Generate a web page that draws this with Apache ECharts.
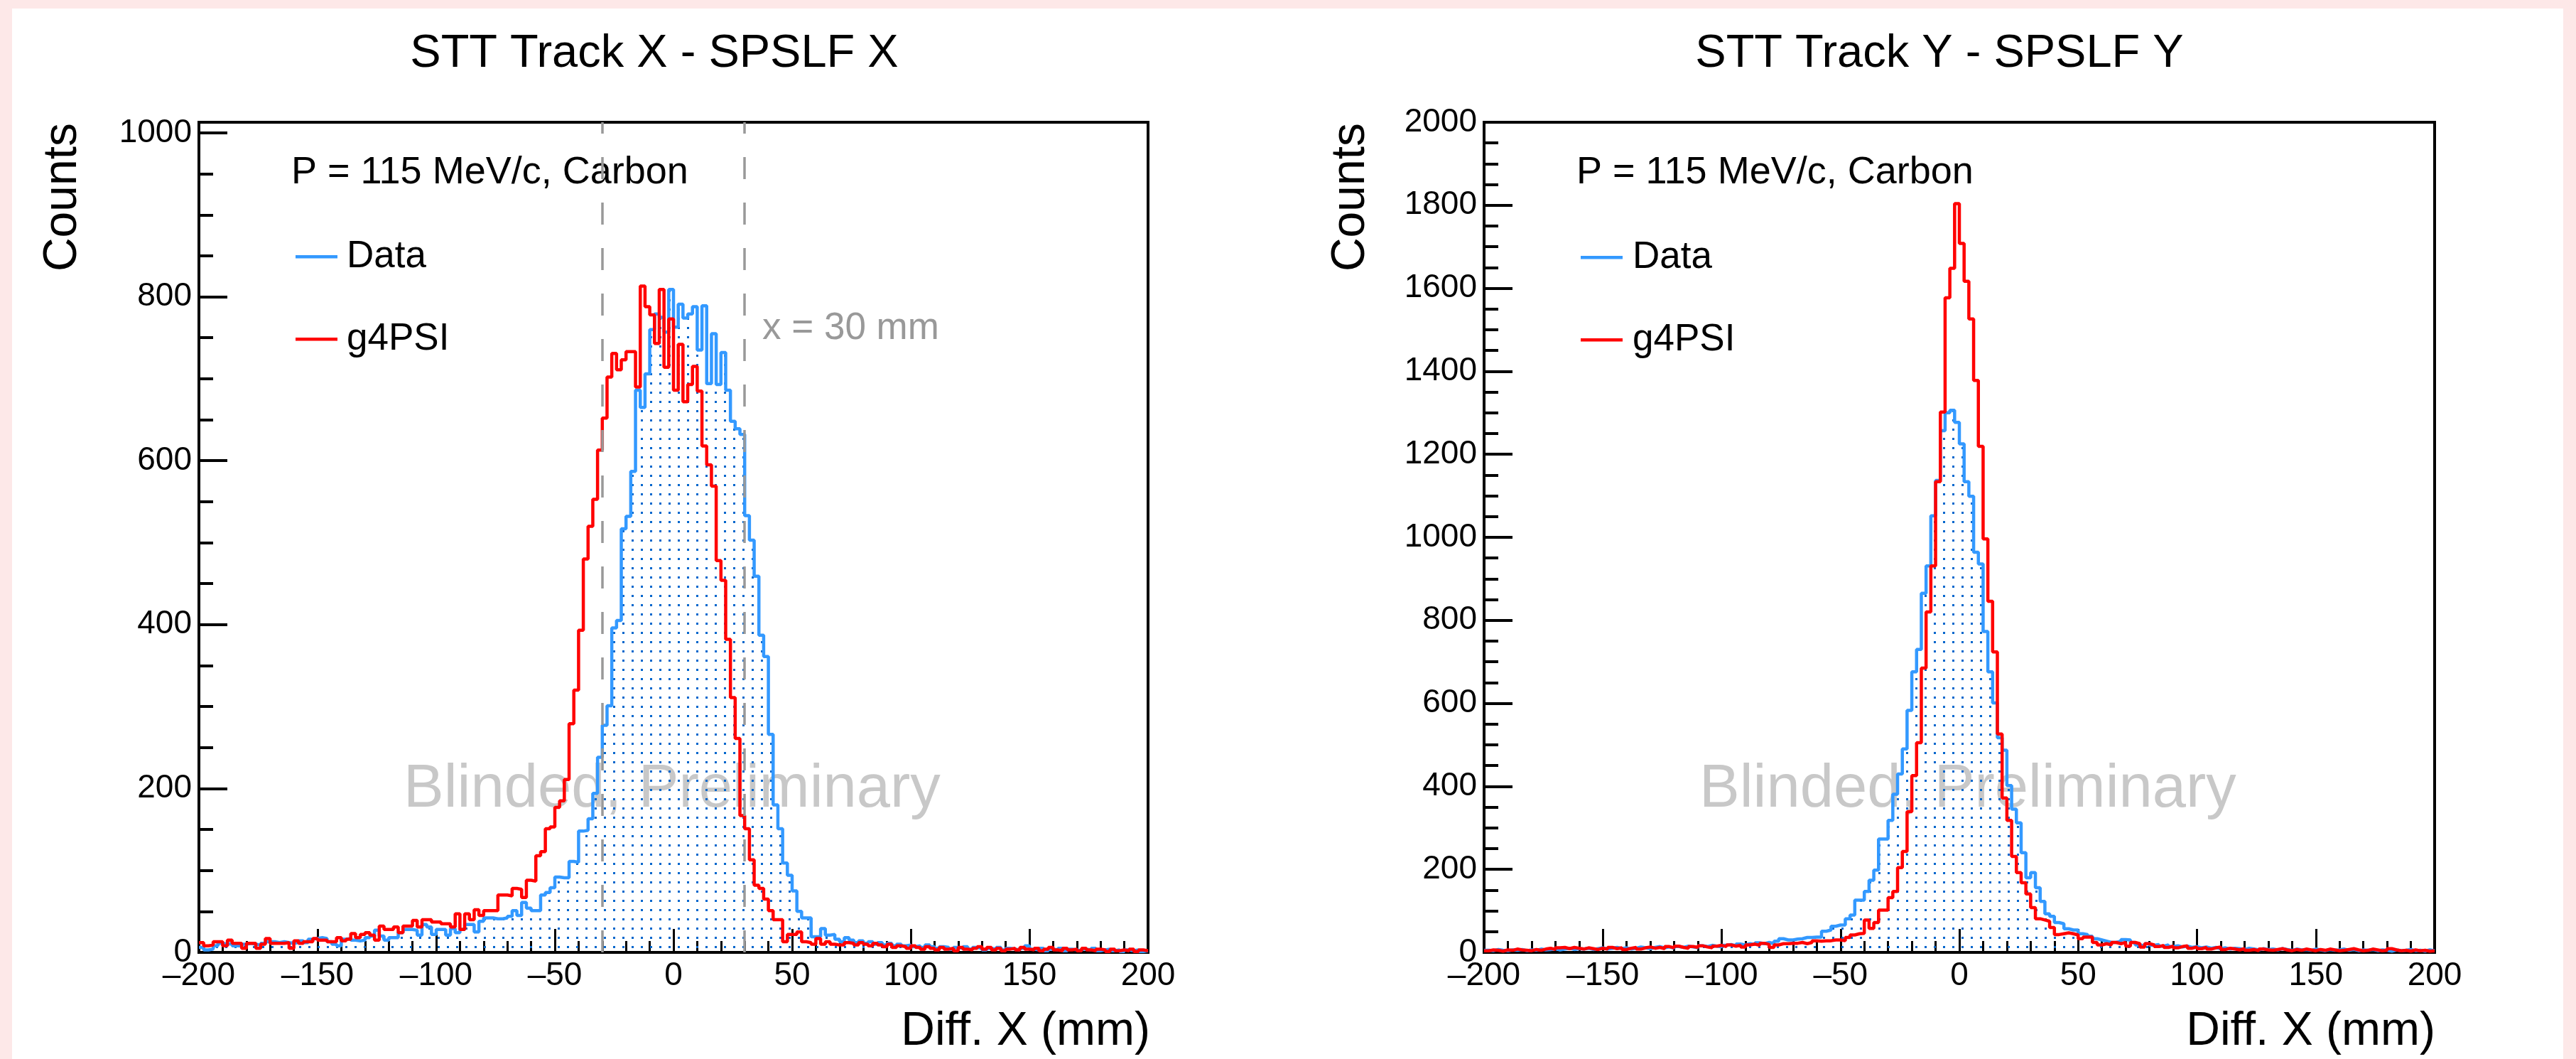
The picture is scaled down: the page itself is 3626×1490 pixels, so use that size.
<!DOCTYPE html>
<html>
<head>
<meta charset="utf-8">
<script src="https://cdn.jsdelivr.net/npm/echarts@6/dist/echarts.min.js"></script>
<style>
  html, body { margin: 0; padding: 0; background: #ffffff; }
  #chart { position: absolute; left: 0; top: 0; width: 3626px; height: 1490px; }
</style>
</head>
<body>
<div id="chart"></div>
<script>
// Histogram binning: 200 bins of 2 mm from -200 mm to +200 mm
const binLow = -200;
const binWidth = 2;

// Counts per bin, STT track X minus SPSLF X
const diffXData = [
  6, 3, 4, 8, 11, 10, 11, 8, 8, 10,
  11, 10, 9, 11, 13, 13, 12, 13, 12, 11,
  12, 14, 12, 16, 17, 18, 17, 13, 10, 8,
  16, 17, 15, 14, 15, 18, 20, 27, 20, 15,
  18, 18, 24, 28, 28, 27, 21, 34, 31, 22,
  28, 28, 21, 29, 24, 28, 34, 34, 25, 38,
  42, 42, 41, 41, 42, 44, 51, 45, 61, 54,
  51, 51, 70, 73, 79, 92, 91, 91, 111, 110,
  148, 149, 163, 194, 238, 277, 301, 396, 405, 517,
  532, 587, 686, 665, 706, 760, 779, 775, 757, 809,
  763, 791, 774, 779, 788, 735, 789, 694, 755, 693,
  732, 686, 648, 639, 632, 533, 503, 459, 387, 361,
  266, 180, 151, 109, 94, 75, 50, 42, 42, 19,
  19, 29, 21, 22, 16, 13, 18, 15, 12, 14,
  11, 13, 10, 12, 9, 11, 8, 10, 8, 9,
  7, 8, 6, 9, 7, 5, 7, 6, 4, 6,
  5, 7, 4, 6, 5, 3, 5, 4, 6, 3,
  5, 4, 3, 5, 8, 4, 3, 5, 2, 4,
  3, 5, 2, 4, 3, 2, 4, 3, 5, 2,
  3, 4, 2, 3, 1, 3, 2, 3, 1, 2
];
const diffXSim = [
  12, 8, 9, 13, 13, 8, 15, 11, 11, 5,
  11, 11, 5, 10, 17, 11, 11, 11, 12, 5,
  14, 11, 13, 13, 17, 15, 15, 13, 13, 18,
  14, 16, 23, 18, 22, 24, 21, 15, 32, 28,
  28, 31, 24, 32, 32, 39, 31, 40, 40, 37,
  37, 35, 35, 31, 47, 28, 47, 40, 52, 45,
  51, 51, 51, 70, 70, 69, 78, 77, 67, 88,
  87, 118, 123, 151, 153, 177, 185, 211, 279, 320,
  393, 480, 520, 553, 613, 652, 702, 731, 711, 723,
  733, 733, 690, 813, 788, 778, 743, 809, 714, 773,
  686, 742, 672, 693, 715, 685, 618, 595, 569, 478,
  454, 382, 311, 261, 167, 151, 113, 82, 78, 65,
  51, 40, 40, 13, 22, 22, 25, 13, 12, 10,
  17, 10, 13, 10, 9, 9, 12, 11, 9, 12,
  10, 8, 11, 9, 7, 10, 6, 8, 7, 5,
  8, 6, 4, 7, 5, 3, 6, 4, 5, 2,
  6, 4, 3, 5, 7, 4, 6, 3, 5, 2,
  4, 5, 3, 6, 4, 3, 5, 2, 4, 6,
  3, 2, 5, 3, 4, 2, 5, 3, 2, 4,
  3, 1, 4, 2, 3, 2, 4, 1, 3, 2
];

// Counts per bin, STT track Y minus SPSLF Y
const diffYData = [
  5, 4, 7, 5, 4, 6, 5, 7, 4, 6,
  5, 8, 6, 7, 9, 6, 8, 10, 7, 9,
  8, 10, 7, 9, 11, 8, 10, 12, 9, 11,
  8, 10, 13, 11, 9, 12, 14, 11, 13, 10,
  14, 12, 15, 13, 11, 16, 14, 17, 15, 13,
  17, 19, 16, 20, 18, 21, 19, 23, 21, 24,
  21, 27, 33, 30, 30, 32, 33, 36, 36, 37,
  37, 51, 54, 63, 66, 66, 81, 90, 126, 126,
  147, 174, 198, 273, 273, 318, 381, 430, 490, 583,
  676, 730, 865, 931, 1052, 1137, 1257, 1300, 1306, 1277,
  1225, 1134, 1099, 964, 936, 773, 676, 601, 517, 487,
  402, 345, 312, 240, 180, 192, 156, 123, 93, 87,
  72, 69, 57, 54, 54, 45, 43, 39, 33, 30,
  27, 24, 24, 27, 31, 30, 24, 18, 15, 21,
  17, 19, 15, 18, 14, 16, 13, 15, 12, 14,
  11, 13, 10, 12, 9, 11, 8, 10, 9, 7,
  10, 8, 6, 9, 7, 8, 6, 9, 7, 5,
  8, 6, 7, 5, 8, 6, 4, 7, 5, 6,
  8, 5, 7, 4, 6, 5, 7, 4, 6, 5,
  3, 6, 4, 5, 7, 4, 5, 3, 6, 4
];
const diffYSim = [
  4, 6, 5, 3, 6, 5, 8, 6, 5, 4,
  7, 5, 8, 10, 7, 11, 12, 9, 12, 10,
  8, 11, 9, 7, 10, 8, 12, 9, 11, 7,
  10, 12, 8, 11, 13, 10, 12, 9, 14, 11,
  15, 12, 10, 14, 12, 16, 13, 11, 15, 17,
  14, 18, 15, 17, 13, 18, 20, 17, 22, 19,
  12, 18, 21, 21, 22, 22, 24, 21, 24, 28,
  27, 28, 28, 30, 30, 28, 36, 42, 45, 46,
  78, 58, 72, 102, 102, 132, 147, 204, 243, 339,
  426, 505, 685, 820, 931, 1134, 1302, 1577, 1648, 1804,
  1708, 1617, 1526, 1378, 1219, 996, 846, 724, 526, 372,
  318, 231, 192, 168, 141, 108, 81, 78, 75, 60,
  43, 45, 47, 45, 42, 33, 37, 37, 24, 18,
  21, 18, 24, 21, 24, 15, 24, 21, 13, 21,
  18, 14, 17, 12, 15, 11, 14, 16, 10, 13,
  9, 12, 8, 11, 13, 7, 10, 8, 6, 9,
  5, 7, 4, 8, 6, 5, 7, 9, 6, 4,
  7, 5, 8, 6, 4, 7, 5, 8, 6, 4,
  5, 7, 9, 6, 4, 5, 8, 6, 4, 5,
  9, 6, 4, 5, 3, 6, 4, 5, 3, 4
];

// Axis ranges and the selection cut
const xRange = [-200, 200];
const yRangeX = [0, 1013];
const yRangeY = [0, 2000];
const cutX = [-30, 30];

const FONT = '"Liberation Sans", Arial, Helvetica, sans-serif';
const BLUE = '#3399ff';
const RED = '#ff0000';

// Step outline of a histogram: two points per bin
function steps(vals) {
  const pts = [];
  vals.forEach((v, i) => {
    const x0 = binLow + i * binWidth;
    pts.push([x0, v], [x0 + binWidth, v]);
  });
  return pts;
}

// Sparse dot fill used under the data histograms
function dotPattern() {
  const c = document.createElement('canvas');
  c.width = 13; c.height = 13;
  const g = c.getContext('2d');
  g.fillStyle = '#0066cc';
  g.fillRect(5, 5, 3, 3);
  return c;
}
const dots = { image: dotPattern(), repeat: 'repeat' };

const fmtX = v => (v < 0 ? '\u2013' + Math.abs(v) : String(v));
const fmtY = v => String(v);

function xAxisCfg(gi) {
  return {
    gridIndex: gi, type: 'value', min: xRange[0], max: xRange[1], interval: 50,
    axisLine: { show: true, onZero: false, lineStyle: { color: '#000', width: 4 } },
    axisTick: { show: true, inside: true, length: 33, lineStyle: { color: '#000', width: 3 } },
    minorTick: { show: true, splitNumber: 5, length: 16, lineStyle: { color: '#000', width: 3 } },
    splitLine: { show: false },
    axisLabel: { fontSize: 46, fontFamily: FONT, color: '#000', margin: 10, formatter: fmtX }
  };
}
function yAxisCfg(gi, range, showMax) {
  return {
    gridIndex: gi, type: 'value', min: range[0], max: range[1], interval: 200,
    axisLine: { show: true, onZero: false, lineStyle: { color: '#000', width: 4 } },
    axisTick: { show: true, inside: true, length: 40, lineStyle: { color: '#000', width: 4 } },
    minorTick: { show: true, splitNumber: 4, length: 20, lineStyle: { color: '#000', width: 4 } },
    splitLine: { show: false },
    axisLabel: { fontSize: 46, fontFamily: FONT, color: '#000', margin: 10, showMaxLabel: showMax, formatter: fmtY }
  };
}

function histSeries(name, gi, vals, color, filled, z) {
  const s = {
    name, type: 'line', xAxisIndex: gi, yAxisIndex: gi,
    data: steps(vals), symbol: 'none', showSymbol: false,
    lineStyle: { color, width: 4.5 }, itemStyle: { color },
    z, animation: false, silent: true
  };
  if (filled) s.areaStyle = { color: dots, opacity: 1 };
  return s;
}

function txt(x, y, text, size, opts) {
  opts = opts || {};
  return {
    type: 'text', x, y, rotation: opts.rotation || 0, z: opts.z || 5, silent: true,
    style: {
      text, fontSize: size, fontFamily: FONT, fill: opts.fill || '#000',
      align: opts.align || 'left', verticalAlign: 'middle'
    }
  };
}
function swatch(x, y, color) {
  return { type: 'rect', z: 5, silent: true, shape: { x, y: y - 2, width: 59, height: 4.5 }, style: { fill: color } };
}

// Per-panel text layout
const panels = [
  { title: 'STT Track X - SPSLF X', titleX: 921, countsX: 89, infoX: 410, swX: 416, legX: 488, legY: [361, 477], markX: 568, axisR: 1619 },
  { title: 'STT Track Y - SPSLF Y', titleX: 2730, countsX: 1902, infoX: 2219, swX: 2225, legX: 2298, legY: [362, 478], markX: 2392, axisR: 3428 }
];

const graphics = [
  // page frame
  { type: 'rect', z: 0, silent: true, shape: { x: 0, y: 0, width: 17, height: 1490 }, style: { fill: '#fde8e8' } },
  { type: 'rect', z: 0, silent: true, shape: { x: 0, y: 0, width: 3626, height: 12 }, style: { fill: '#fde8e8' } },
  { type: 'rect', z: 0, silent: true, shape: { x: 3608, y: 0, width: 18, height: 1490 }, style: { fill: '#fde8e8' } }
];
panels.forEach(p => {
  graphics.push(txt(p.titleX, 76, p.title, 65, { align: 'center' }));
  graphics.push(txt(p.countsX, 173, 'Counts', 66, { align: 'right', rotation: Math.PI / 2 }));
  graphics.push(txt(p.infoX, 243, 'P = 115 MeV/c, Carbon', 54));
  graphics.push(swatch(p.swX, p.legY[0], BLUE));
  graphics.push(txt(p.legX, p.legY[0], 'Data', 53));
  graphics.push(swatch(p.swX, p.legY[1], RED));
  graphics.push(txt(p.legX, p.legY[1], 'g4PSI', 53));
  graphics.push(txt(p.markX, 1112, 'Blinded, Preliminary', 85, { fill: '#c8c8c8', z: 1 }));
  graphics.push(txt(p.axisR, 1452, 'Diff. X (mm)', 66, { align: 'right' }));
});
graphics.push(txt(1073, 462, 'x = ' + cutX[1] + ' mm', 53, { fill: '#999999' }));

const chart = echarts.init(document.getElementById('chart'), null, { renderer: 'canvas', width: 3626, height: 1490 });

const simX = histSeries('g4PSI', 0, diffXSim, RED, false, 4);
simX.markLine = {
  silent: true, symbol: ['none', 'none'], label: { show: false }, animation: false,
  lineStyle: { color: '#999999', width: 3.5, type: [31, 33] },
  emphasis: { disabled: true },
  data: cutX.map(v => ({ xAxis: v }))
};

chart.setOption({
  backgroundColor: '#ffffff',
  animation: false,
  textStyle: { fontFamily: FONT },
  grid: [
    { left: 280, top: 172, width: 1336, height: 1168, show: true, borderColor: '#000', borderWidth: 4, backgroundColor: 'transparent', containLabel: false, outerBoundsMode: 'none' },
    { left: 2089, top: 172, width: 1338, height: 1168, show: true, borderColor: '#000', borderWidth: 4, backgroundColor: 'transparent', containLabel: false, outerBoundsMode: 'none' }
  ],
  xAxis: [xAxisCfg(0), xAxisCfg(1)],
  yAxis: [yAxisCfg(0, yRangeX, false), yAxisCfg(1, yRangeY, true)],
  series: [
    histSeries('Data', 0, diffXData, BLUE, true, 3),
    simX,
    histSeries('Data', 1, diffYData, BLUE, true, 3),
    histSeries('g4PSI', 1, diffYSim, RED, false, 4)
  ],
  graphic: graphics
});
</script>
</body>
</html>
